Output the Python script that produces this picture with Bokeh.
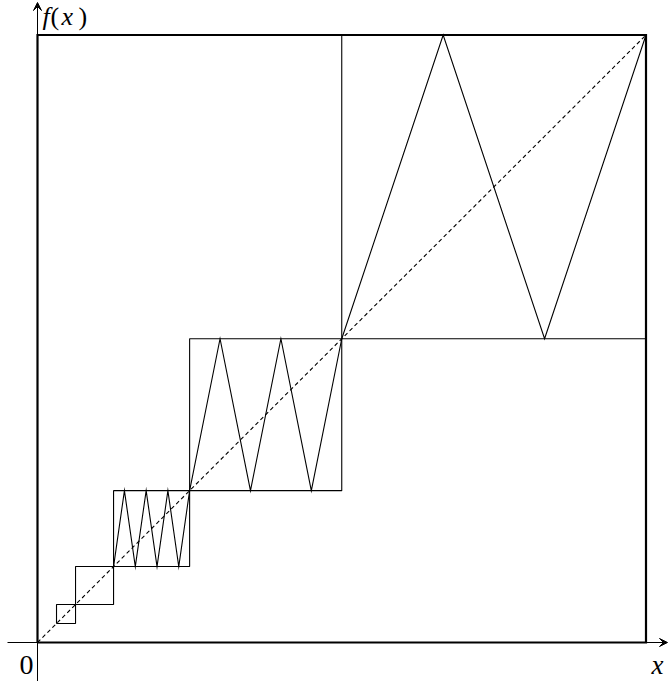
from bokeh.plotting import figure
from bokeh.models import Range1d, Arrow, VeeHead
from bokeh.core.properties import value
from bokeh.embed import file_html
from bokeh.resources import INLINE

# ---- data ----
box_lo = [1/2, 1/4, 1/8, 1/16, 1/32]
box_hi = [1, 1/2, 1/4, 1/8, 1/16]

zig1_x = [1/2, 2/3, 5/6, 1]
zig1_y = [1/2, 1, 1/2, 1]

zig2_x = [1/4, 3/10, 7/20, 2/5, 9/20, 1/2]
zig2_y = [1/4, 1/2, 1/4, 1/2, 1/4, 1/2]

zig3_x = [7/56, 8/56, 9/56, 10/56, 11/56, 12/56, 13/56, 14/56]
zig3_y = [1/8, 1/4, 1/8, 1/4, 1/8, 1/4, 1/8, 1/4]

diag_x = [0, 1]
diag_y = [0, 1]

frame_x = [0, 1, 1, 0, 0]
frame_y = [0, 0, 1, 1, 0]

# ---- layout (pixel geometry) ----
W, H = 668, 681
X0, SX = 37.0, 608.5          # px of data x=0, px per unit
YB, SY = 642.0, 607.5         # px (from top) of data y=0, px per unit
TXT_SHIFT = 10                # compensates text baseline rendering offset

def dx(px):
    return (px - X0) / SX

def dy(py):
    return (YB - py) / SY

p = figure(width=W, height=H,
           x_range=Range1d(dx(0), dx(W)),
           y_range=Range1d(dy(H), dy(0)),
           output_backend="svg", toolbar_location=None,
           x_axis_location=None, y_axis_location=None,
           min_border=0)
p.grid.visible = False
p.outline_line_color = None
p.background_fill_color = "white"
p.border_fill_color = "white"

# boxes
bx, by = [], []
for lo, hi in zip(box_lo, box_hi):
    bx.append([lo, hi, hi, lo, lo])
    by.append([lo, lo, hi, hi, lo])
p.multi_line(xs=bx, ys=by, line_color="black", line_width=1.1)

# zigzags
p.multi_line(xs=[zig1_x, zig2_x, zig3_x], ys=[zig1_y, zig2_y, zig3_y],
             line_color="black", line_width=1.1, line_join="miter")

# dashed diagonal
p.line(diag_x, diag_y, line_color="black", line_width=1.1, line_dash="4 3")

# axes with arrows
p.add_layout(Arrow(x_start=dx(7), y_start=0, x_end=dx(667), y_end=0,
                   line_width=1, line_color="black",
                   end=VeeHead(size=8, line_color="black", fill_color="black", line_width=1)))
p.add_layout(Arrow(x_start=0, y_start=dy(H), x_end=0, y_end=dy(2),
                   line_width=1, line_color="black",
                   end=VeeHead(size=8, line_color="black", fill_color="black", line_width=1)))

# frame
p.line(frame_x, frame_y, line_color="black", line_width=2.2, line_join="miter")

# labels
FONT = "Liberation Serif"
def lab(txt, px, py, size, style="normal", baseline="alphabetic", shift=TXT_SHIFT):
    p.text(x=[dx(px)], y=[dy(py - shift)], text=[txt], text_font=value(FONT),
           text_font_size=f"{size}px", text_font_style=style, text_color="black",
           text_baseline=baseline, text_align="left")

# f(x) label anchored by its top edge
lab("f", 42, 1, 26, "italic", "top", 0)
lab("(", 50, 1, 26, "normal", "top", 0)
lab("x", 61, 1, 26, "italic", "top", 0)
lab(")", 78, 1, 26, "normal", "top", 0)

lab("0", 19, 674, 28)
lab("x", 651, 674, 27, "italic")

open("out.html", "w").write(file_html(p, INLINE))
